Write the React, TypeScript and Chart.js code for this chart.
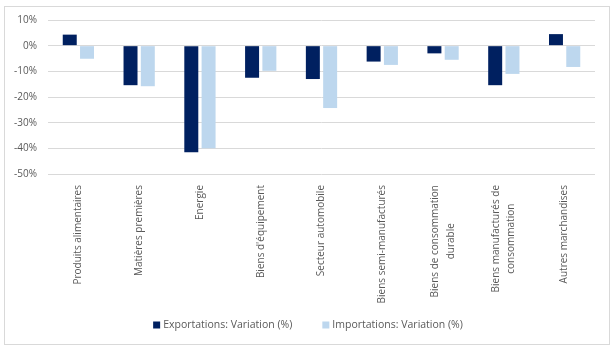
import React, { useEffect, useRef } from "react";
import { Chart, registerables } from "chart.js";

Chart.register(...registerables);

const categories: (string | string[])[] = [
  "Produits alimentaires",
  "Matières premières",
  "Energie",
  "Biens d'équipement",
  "Secteur automobile",
  "Biens semi-manufacturés",
  ["Biens de consommation", "durable"],
  ["Biens manufacturés de", "consommation"],
  "Autres marchandises",
];

const exportations = [4.3, -15.4, -41.5, -12.5, -13.0, -6.2, -3.0, -15.4, 4.5];
const importations = [-5.1, -15.8, -40.0, -9.8, -24.3, -7.5, -5.5, -11.0, -8.3];

const yTicks = [10, 0, -10, -20, -30, -40, -50];

const FONT = "'Open Sans', 'Noto Sans', sans-serif";
const TEXT = "#595959";

export default function App() {
  const ref = useRef<HTMLCanvasElement>(null);
  useEffect(() => {
    if (!ref.current) return;
    const frame = {
      id: "frame",
      beforeDraw(chart: any) {
        const ctx = chart.ctx;
        ctx.save();
        ctx.fillStyle = "#ffffff";
        ctx.fillRect(0, 0, chart.width, chart.height);
        ctx.strokeStyle = "#d9d9d9";
        ctx.lineWidth = 1;
        ctx.strokeRect(4.5, 6.5, 605, 338);
        ctx.restore();
      },
    };
    const xLabels = {
      id: "xLabels",
      afterDraw(chart: any) {
        const ctx = chart.ctx;
        const scale = chart.scales.x;
        const top = chart.chartArea.bottom + 11;
        const lh = 15.5;
        ctx.save();
        ctx.font = `10px ${FONT}`;
        ctx.fillStyle = TEXT;
        ctx.textBaseline = "middle";
        ctx.textAlign = "right";
        (chart.data.labels as any[]).forEach((lab: any, i: number) => {
          const lines: string[] = Array.isArray(lab) ? lab : [lab];
          const widths = lines.map((l) => ctx.measureText(l).width);
          const maxW = Math.max(...widths);
          const cx = scale.getPixelForTick(i);
          lines.forEach((line, j) => {
            const x = cx + (j - (lines.length - 1) / 2) * lh;
            ctx.save();
            ctx.translate(x, top);
            ctx.rotate(-Math.PI / 2);
            ctx.fillText(line, -(maxW - widths[j]) / 2, 0);
            ctx.restore();
          });
        });
        ctx.restore();
      },
    };
    const customLegend = {
      id: "customLegend",
      afterDraw(chart: any) {
        const ctx = chart.ctx;
        const ds = chart.data.datasets;
        const box = 7;
        const gapBoxText = 3;
        const gapItems = 30;
        ctx.save();
        ctx.font = `10.5px ${FONT}`;
        const widths = ds.map((d: any) => box + gapBoxText + ctx.measureText(d.label).width);
        const total = widths.reduce((a: number, b: number) => a + b, 0) + gapItems * (ds.length - 1);
        let x = chart.width / 2 - total / 2;
        const y = 325;
        ctx.textBaseline = "middle";
        ctx.textAlign = "left";
        ds.forEach((d: any, i: number) => {
          ctx.fillStyle = d.backgroundColor;
          ctx.fillRect(x, y - box / 2, box, box);
          ctx.fillStyle = TEXT;
          ctx.fillText(d.label, x + box + gapBoxText, y);
          x += widths[i] + gapItems;
        });
        ctx.restore();
      },
    };
    const chart = new Chart(ref.current, {
      type: "bar",
      data: {
        labels: categories as any,
        datasets: [
          {
            label: "Exportations: Variation (%)",
            data: exportations,
            backgroundColor: "#002060",
            categoryPercentage: 0.569,
            barPercentage: 0.809,
          },
          {
            label: "Importations: Variation (%)",
            data: importations,
            backgroundColor: "#BDD7EE",
            categoryPercentage: 0.569,
            barPercentage: 0.809,
          },
        ],
      },
      options: {
        animation: false,
        responsive: false,
        layout: { padding: { left: 4, right: 21, top: 20, bottom: 40 } },
        plugins: {
          tooltip: { enabled: false },
          legend: { display: false },
        },
        scales: {
          x: {
            grid: { display: false },
            border: { display: false },
            ticks: { display: false, autoSkip: false },
            afterFit(scale: any) {
              scale.height = 139;
            },
          },
          y: {
            min: -50,
            max: 10,
            afterBuildTicks(scale: any) {
              scale.ticks = yTicks.map((v) => ({ value: v }));
            },
            grid: { color: "#d9d9d9", drawTicks: false },
            border: { display: false },
            ticks: {
              color: TEXT,
              font: { family: FONT, size: 10 },
              padding: 11,
              callback: (v: any) => `${v}%`,
            },
            afterFit(scale: any) {
              scale.width = 44;
            },
          },
        },
      },
      plugins: [frame, xLabels, customLegend],
    });
    return () => chart.destroy();
  }, []);
  return (
    <div style={{ position: "fixed", left: 0, top: 0, width: 616, height: 353, background: "#fff" }}>
      <canvas ref={ref} width={616} height={353} style={{ display: "block" }} />
    </div>
  );
}
